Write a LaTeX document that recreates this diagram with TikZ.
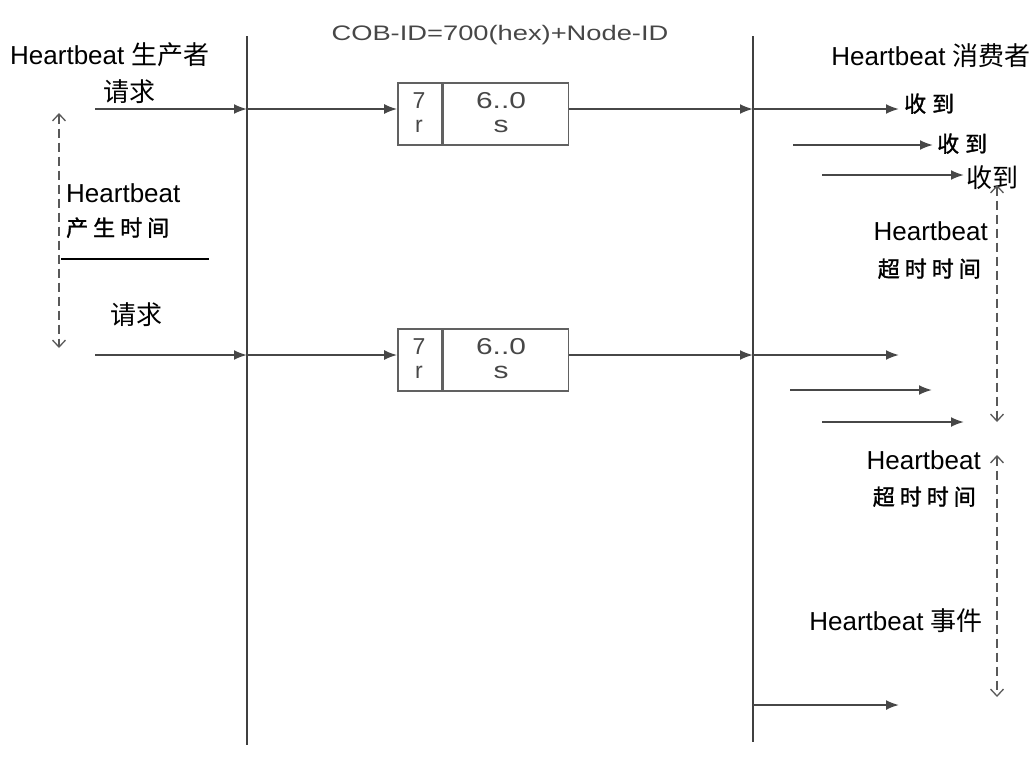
\documentclass[tikz,border=0pt]{standalone}
\usepackage{fontspec}
\setmainfont{Liberation Sans}
\newfontfamily\cjk{Noto Sans CJK SC}
\newfontfamily\cjkb[FakeBold=1.4]{Noto Sans CJK SC}
\usetikzlibrary{arrows.meta}
\tikzset{
  lifeline/.style={line width=2.6pt, draw=black!75},
  msg/.style={line width=2pt, draw=black!72, -{Latex[length=13pt,width=10pt]}},
  span/.style={line width=2.3pt, draw=black!65, dash pattern=on 9pt off 5pt,
     {Straight Barb[length=7pt,width=13pt,line width=1.3pt]}-{Straight Barb[length=7pt,width=13pt,line width=1.3pt]}},
  lbl/.style={inner sep=0pt, font=\fontsize{26}{30}\selectfont},
  slbl/.style={inner sep=0pt, font=\fontsize{22}{26}\selectfont},
  boxpart/.style={draw=black!62, line width=1.6pt, minimum height=62pt, inner sep=0pt},
  boxtxt/.style={inner sep=0pt, text=black!72, font=\fontsize{23}{26}\selectfont},
  cobtxt/.style={inner sep=0pt, text=black!72, font=\fontsize{21}{24}\selectfont}
}
\begin{document}
\begin{tikzpicture}[x=1pt,y=-1pt]
\useasboundingbox (0,0) rectangle (1035,756);
% lifelines
\coordinate (LT) at (247,36); \coordinate (LB) at (247,745);
\coordinate (RT) at (753,36); \coordinate (RB) at (753,742);
\draw[lifeline] (LT) -- (LB);
\draw[lifeline] (RT) -- (RB);
% titles
\node[lbl, anchor=base west] (prod) at (10,64) {Heartbeat {\cjk 生产者}};
\node[cobtxt, anchor=base] (cob) at (500,40) {\scalebox{1.3}[1]{COB-ID=700(hex)+Node-ID}};
\node[lbl, anchor=base east] (cons) at (1031,65) {Heartbeat {\cjk 消费者}};
% boxes
\node[boxpart, minimum width=44pt] (b1r) at (420,114) {};
\node[boxpart, minimum width=125pt, anchor=west] (b1s) at (b1r.east) {};
\node[boxpart, minimum width=44pt] (b2r) at (420,360) {};
\node[boxpart, minimum width=125pt, anchor=west] (b2s) at (b2r.east) {};
\node[boxtxt, anchor=base] (b1r1) at (419,108) {7};
\node[boxtxt, anchor=base] (b1r2) at (419,132) {r};
\node[boxtxt, anchor=base] (b1s1) at (501,108) {\scalebox{1.3}[1]{6..0}};
\node[boxtxt, anchor=base] (b1s2) at (501,132) {\scalebox{1.3}[1]{s}};
\node[boxtxt, anchor=base] (b2r1) at (419,354) {7};
\node[boxtxt, anchor=base] (b2r2) at (419,378) {r};
\node[boxtxt, anchor=base] (b2s1) at (501,354) {\scalebox{1.3}[1]{6..0}};
\node[boxtxt, anchor=base] (b2s2) at (501,378) {\scalebox{1.3}[1]{s}};
% left labels
\node[lbl, anchor=base west] (req1) at (103,101) {\cjk 请求};
\node[lbl, anchor=base west] (req2) at (110,324) {\cjk 请求};
\node[lbl, anchor=base west] (hbp) at (66,202) {Heartbeat};
\node[slbl, anchor=base west] (hbpt) at (66,236) {\cjkb 产\hspace{5pt}生\hspace{5pt}时\hspace{5pt}间};
\coordinate (hl1) at (61,259); \coordinate (hl2) at (209,259);
\draw[line width=2pt] (hl1) -- (hl2);
\coordinate (ld1) at (59,113); \coordinate (ld2) at (59,348);
\draw[span] (ld1) -- (ld2);
% messages row 1
\coordinate (s1) at (95,109); \coordinate (L1) at (247,109); \coordinate (R1) at (753,109);
\draw[msg] (s1) -- (L1);
\draw[msg] (L1) -- (b1r.west |- L1);
\draw[msg] (b1s.east |- L1) -- (R1);
% messages row 2
\coordinate (s2) at (95,355); \coordinate (L2) at (247,355); \coordinate (R2) at (753,355);
\draw[msg] (s2) -- (L2);
\draw[msg] (L2) -- (b2r.west |- L2);
\draw[msg] (b2s.east |- L2) -- (R2);
% consumer side
\node[slbl, anchor=base west] (rx1) at (904,112) {\cjkb 收\hspace{6pt}到};
\node[slbl, anchor=base west] (rx2) at (937,152) {\cjkb 收\hspace{6pt}到};
\node[lbl, anchor=base west] (rx3) at (966,187) {\cjk 收到};
\coordinate (c1) at (899,109); \coordinate (c2s) at (793,145); \coordinate (c2) at (933,145);
\coordinate (c3s) at (822,175); \coordinate (c3) at (964,175);
\draw[msg] (R1) -- (c1);
\draw[msg] (c2s) -- (c2);
\draw[msg] (c3s) -- (c3);
\coordinate (d1) at (899,355); \coordinate (d2s) at (790,390); \coordinate (d2) at (932,390);
\coordinate (d3s) at (822,422); \coordinate (d3) at (964,422);
\draw[msg] (R2) -- (d1);
\draw[msg] (d2s) -- (d2);
\draw[msg] (d3s) -- (d3);
\coordinate (R3) at (753,705); \coordinate (e1) at (899,705);
\draw[msg] (R3) -- (e1);
% timeout spans
\coordinate (rd1) at (997,185); \coordinate (rd2) at (997,422);
\draw[span] (rd1) -- (rd2);
\coordinate (rd3) at (997,455); \coordinate (rd4) at (997,697);
\draw[span] (rd3) -- (rd4);
\node[lbl, anchor=base east] (to1a) at (988,240) {Heartbeat};
\node[slbl, anchor=base east] (to1b) at (981,277) {\cjkb 超\hspace{5pt}时\hspace{5pt}时\hspace{5pt}间};
\node[lbl, anchor=base east] (to2a) at (981,469) {Heartbeat};
\node[slbl, anchor=base east] (to2b) at (976,505) {\cjkb 超\hspace{5pt}时\hspace{5pt}时\hspace{5pt}间};
\node[lbl, anchor=base east] (ev) at (983,630) {Heartbeat {\cjk 事件}};
\end{tikzpicture}
\end{document}
